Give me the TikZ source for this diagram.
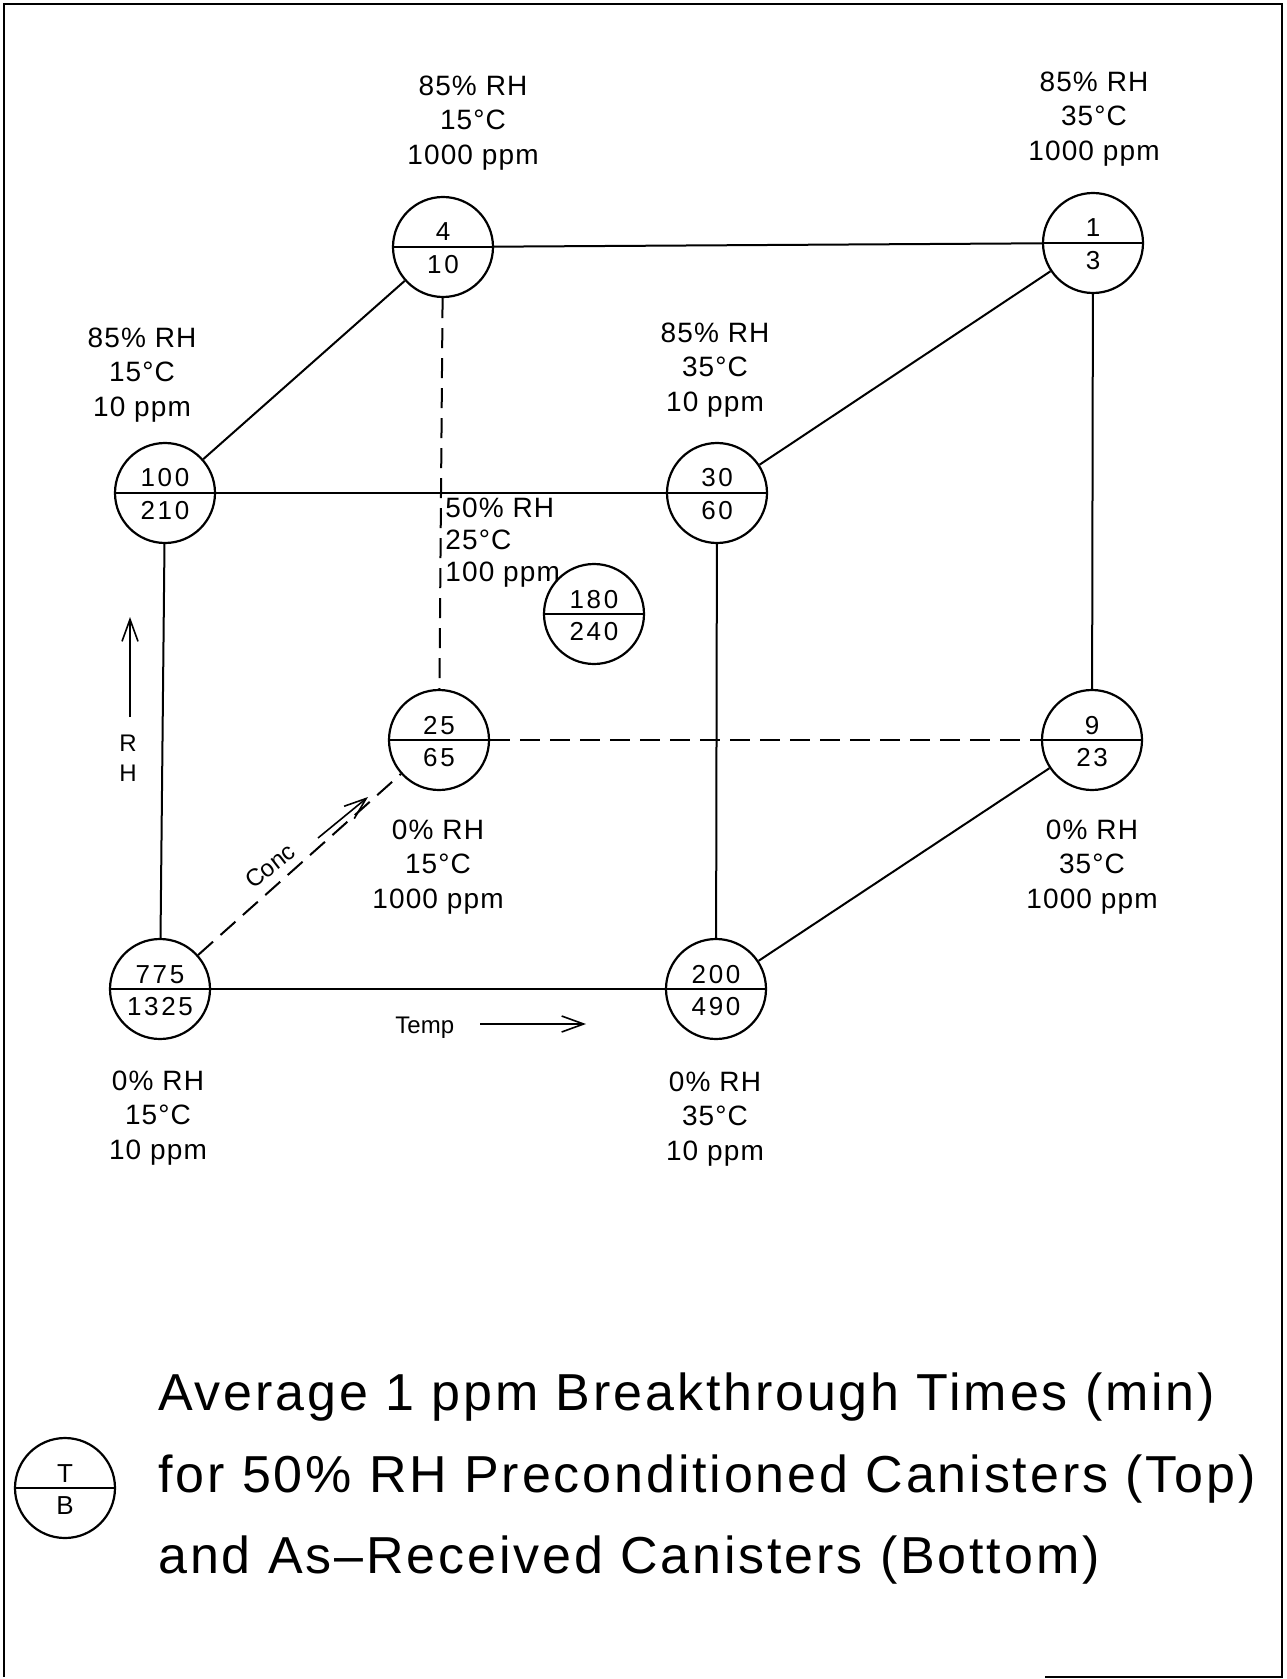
\documentclass[tikz,border=0pt]{standalone}
\usepackage{fontspec}
\setmainfont{Liberation Sans}
\usetikzlibrary{arrows.meta}
\tikzset{
  canister/.style={circle, draw, line width=1.1pt, minimum size=50pt, inner sep=0pt},
  num/.style={font=\fontsize{13}{15}\selectfont\addfontfeatures{LetterSpace=10}, inner sep=0pt},
  cond/.style={font=\fontsize{14}{17.25}\selectfont\addfontfeatures{LetterSpace=4}, align=center, inner sep=0pt},
  solidedge/.style={line width=1pt},
  dashedge/.style={line width=1pt, dash pattern=on 10pt off 5pt},
  axisarrow/.style={line width=0.8pt, -{Straight Barb[length=11pt,width=8pt]}},
  axislabel/.style={font=\fontsize{12}{14}\selectfont, inner sep=0pt},
  titleline/.style={font=\fontsize{26}{30}\selectfont\addfontfeatures{LetterSpace=5.5}, inner sep=0pt, anchor=base west},
  frameline/.style={line width=0.9pt}
}
\newcommand{\cannode}[4]{%
  \node[canister] (#1) at (#2) {};
  \draw[line width=1.1pt] (#1.west) -- (#1.east);
  \node[num, anchor=base] (#1-t) at ([yshift=3pt]#1.center) {#3};
  \node[num, anchor=north] (#1-b) at ([yshift=-4pt]#1.center) {#4};
}
\begin{document}
\begin{tikzpicture}[x=0.5pt, y=-0.5pt]
\path[use as bounding box] (0,0) rectangle (1286,1679);
\draw[frameline] (1045,1677) -- (1282,1677) -- (1282,4) -- (4,4) -- (4,1677);

% canisters
\cannode{n4}{443,247}{4}{10}
\cannode{n1}{1093,243}{1}{3}
\cannode{n100}{165,493}{100}{210}
\cannode{n30}{717,493}{30}{60}
\cannode{n180}{594,614}{180}{240}
\cannode{n25}{439,740}{25}{65}
\cannode{n9}{1092,740}{9}{23}
\cannode{n775}{160,989}{775}{1325}
\cannode{n200}{716,989}{200}{490}
\cannode{leg}{65,1488}{T}{B}

% solid edges
\draw[solidedge] (n4) -- (n1);
\draw[solidedge] (n4) -- (n100);
\draw[solidedge] (n1) -- (n30);
\draw[solidedge] (n1) -- (n9);
\draw[solidedge] (n100) -- (n30);
\draw[solidedge] (n100) -- (n775);
\draw[solidedge] (n30) -- (n200);
\draw[solidedge] (n775) -- (n200);
\draw[solidedge] (n200) -- (n9);
% dashed edges
\draw[dashedge] (n4) -- (n25);
\draw[dashedge] (n25) -- (n9);
\draw[dashedge] (n775) -- (n25);

% condition labels
\node[cond] (c4) at (473,123) {85\% RH\\15°C\\1000 ppm};
\node[cond] (c1) at (1094,119) {85\% RH\\35°C\\1000 ppm};
\node[cond] (c100) at (142,375) {85\% RH\\15°C\\10 ppm};
\node[cond] (c30) at (715,370) {85\% RH\\35°C\\10 ppm};
\node[cond, align=left, anchor=west, font=\fontsize{14}{16}\selectfont\addfontfeatures{LetterSpace=4}] (c180) at (445,543) {50\% RH\\25°C\\100 ppm};
\node[cond] (c25) at (438,867) {0\% RH\\15°C\\1000 ppm};
\node[cond] (c9) at (1092,867) {0\% RH\\35°C\\1000 ppm};
\node[cond] (c775) at (158,1118) {0\% RH\\15°C\\10 ppm};
\node[cond] (c200) at (715,1119) {0\% RH\\35°C\\10 ppm};

% axis indicators
\coordinate (rh0) at (130,717);
\coordinate (rh1) at (130,617);
\draw[axisarrow] (rh0) -- (rh1);
\node[axislabel] (rhR) at (128,743) {R};
\node[axislabel] (rhH) at (128,773) {H};

\coordinate (cc0) at (318,838);
\coordinate (cc1) at (368,797);
\draw[axisarrow] (cc0) -- (cc1);
\node[axislabel, rotate=38] (conc) at (270,866) {Conc};

\node[axislabel, anchor=base west] (temp) at (395,1033) {Temp};
\coordinate (tt0) at (480,1024);
\coordinate (tt1) at (586,1024);
\draw[axisarrow] (tt0) -- (tt1);

% title
\node[titleline] (t1) at (158,1410) {Average 1 ppm Breakthrough Times (min)};
\node[titleline] (t2) at (158,1492) {for 50\% RH Preconditioned Canisters (Top)};
\node[titleline] (t3) at (158,1573) {and As–Received Canisters (Bottom)};
\end{tikzpicture}
\end{document}
